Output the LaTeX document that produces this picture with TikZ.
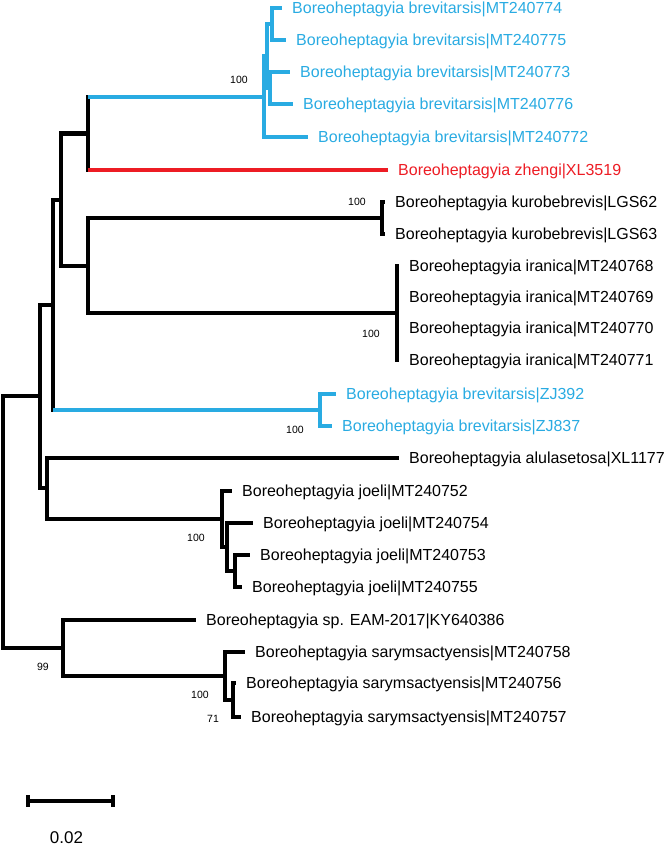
\documentclass[tikz,border=0pt]{standalone}
\usepackage{fontspec}
\setmainfont{Liberation Sans}
\usetikzlibrary{calc}

\definecolor{brevblue}{RGB}{41,171,226}
\definecolor{zhengred}{RGB}{237,28,36}

\tikzset{
	branch/.style={line width=4pt},
	bar/.style={line width=4pt, line cap=rect},
	taxon/.style={anchor=west, xshift=10pt, inner sep=0pt, text height=11.5pt, text depth=0pt, font=\fontsize{16}{18}\selectfont},
	boot/.style={inner sep=0pt, font=\fontsize{10.5}{12}\selectfont},
}

\begin{document}
\begin{tikzpicture}[x=1pt,y=-1pt]

	\useasboundingbox (0,0) rectangle (668,848);

	% leaf tips
	\coordinate (b74) at (282,8);
	\coordinate (b75) at (286,40);
	\coordinate (b73) at (290,72);
	\coordinate (b76) at (293,104);
	\coordinate (b72) at (308,137);
	\coordinate (zh) at (388,170);
	\coordinate (k62) at (385,202);
	\coordinate (k63) at (385,234);
	\coordinate (i68) at (399,266);
	\coordinate (i69) at (399,297);
	\coordinate (i70) at (399,328);
	\coordinate (i71) at (399,360);
	\coordinate (zj392) at (336,394);
	\coordinate (zj837) at (332,426);
	\coordinate (alul) at (399,458);
	\coordinate (j52) at (232,491);
	\coordinate (j54) at (253,523);
	\coordinate (j53) at (250,555);
	\coordinate (j55) at (242,587);
	\coordinate (sp) at (196,620);
	\coordinate (s58) at (245,652);
	\coordinate (s56) at (236,683);
	\coordinate (s57) at (241,717);

	% internal nodes
	\coordinate (n12) at (272,24);
	\coordinate (n34) at (270,88);
	\coordinate (n1234) at (267,56);
	\coordinate (nbrev) at (264,97);
	\coordinate (nbr) at (88,133.5);
	\coordinate (nkur) at (382,218);
	\coordinate (nira) at (397,313);
	\coordinate (nki) at (88,265.5);
	\coordinate (nA) at (61,200);
	\coordinate (nzj) at (320,410);
	\coordinate (nB) at (53,305);
	\coordinate (nj5355) at (235,571);
	\coordinate (nj54) at (227,547);
	\coordinate (njoe) at (222,519);
	\coordinate (nC) at (47,488);
	\coordinate (nD) at (40,396);
	\coordinate (ns5657) at (233,700);
	\coordinate (ns) at (225,676);
	\coordinate (nE) at (63,648);
	\coordinate (root) at (3,522);

	% vertical bars
	\foreach \n/\a/\b in {nbr/nbrev/zh, nkur/k62/k63, nira/i68/i71, nki/nkur/nira,
		nA/nbr/nki, nB/nA/nzj, nj5355/j53/j55, nj54/j54/nj5355, njoe/j52/nj54,
		nC/alul/njoe, nD/nB/nC, ns5657/s56/s57, ns/s58/ns5657, nE/sp/ns, root/nD/nE}
		\draw[bar] (\n |- \a) -- (\n |- \b);
	\foreach \n/\a/\b in {n12/b74/b75, n34/b73/b76, n1234/n12/n34, nbrev/n1234/b72, nzj/zj392/zj837}
		\draw[bar, brevblue] (\n |- \a) -- (\n |- \b);

	% horizontal branches
	\foreach \p/\c in {nkur/k62, nkur/k63, nira/i68, nira/i69, nira/i70, nira/i71,
		nki/nkur, nki/nira, nA/nbr, nA/nki, nB/nA, nD/nB, nD/nC, nC/alul, nC/njoe,
		njoe/j52, njoe/nj54, nj54/j54, nj54/nj5355, nj5355/j53, nj5355/j55,
		root/nD, root/nE, nE/sp, nE/ns, ns/s58, ns/ns5657, ns5657/s56, ns5657/s57}
		\draw[branch] (\p |- \c) -- (\c);
	\foreach \p/\c in {nbr/nbrev, nbrev/n1234, nbrev/b72, n1234/n12, n1234/n34,
		n12/b74, n12/b75, n34/b73, n34/b76, nB/nzj, nzj/zj392, nzj/zj837}
		\draw[branch, brevblue] (\p |- \c) -- (\c);
	\draw[branch, zhengred] (nbr |- zh) -- (zh);

	% taxon labels
	\foreach \t/\txt in {b74/MT240774, b75/MT240775, b73/MT240773, b76/MT240776, b72/MT240772, zj392/ZJ392, zj837/ZJ837}
		\node[taxon, text=brevblue] (l-\t) at (\t) {Boreoheptagyia brevitarsis|\txt};
	\node[taxon, text=zhengred] (l-zh) at (zh) {Boreoheptagyia zhengi|XL3519};
	\foreach \t/\txt in {k62/{kurobebrevis|LGS62}, k63/{kurobebrevis|LGS63},
		i68/{iranica|MT240768}, i69/{iranica|MT240769}, i70/{iranica|MT240770}, i71/{iranica|MT240771},
		alul/{alulasetosa|XL1177}, j52/{joeli|MT240752}, j54/{joeli|MT240754}, j53/{joeli|MT240753},
		j55/{joeli|MT240755}, sp/{sp. EAM-2017|KY640386}, s58/{sarymsactyensis|MT240758},
		s56/{sarymsactyensis|MT240756}, s57/{sarymsactyensis|MT240757}}
		\node[taxon] (l-\t) at (\t) {Boreoheptagyia \txt};

	% bootstrap values
	\node[boot] (bs1) at ($(nbrev)+(-25,-17)$) {100};
	\node[boot] (bs2) at ($(nkur)+(-25,-16)$) {100};
	\node[boot] (bs3) at ($(nira)+(-26,21)$) {100};
	\node[boot] (bs4) at ($(nzj)+(-25,20)$) {100};
	\node[boot] (bs5) at ($(njoe)+(-26,19)$) {100};
	\node[boot] (bs6) at ($(nE)+(-20,19)$) {99};
	\node[boot] (bs7) at ($(ns)+(-25,19)$) {100};
	\node[boot] (bs8) at ($(ns5657)+(-20,19)$) {71};

	% scale bar
	\coordinate (sbL) at (28,801);
	\coordinate (sbR) at (113,801);
	\draw[line width=3.5pt] (sbL) -- (sbR);
	\draw[line width=3.5pt] ($(sbL)+(0,-6)$) -- ($(sbL)+(0,6)$);
	\draw[line width=3.5pt] ($(sbR)+(0,-6)$) -- ($(sbR)+(0,6)$);
	\node[font=\fontsize{17}{19}\selectfont, inner sep=0pt] (sbtext) at ($(sbL)!0.5!(sbR)+(-4,37)$) {0.02};

\end{tikzpicture}
\end{document}
